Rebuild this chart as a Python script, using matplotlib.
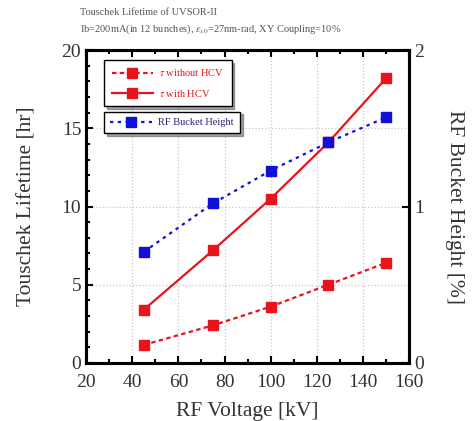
import matplotlib
matplotlib.use('Agg')
import matplotlib.pyplot as plt
from matplotlib.ticker import MultipleLocator

# Data
rf_voltage = [45, 75, 100, 125, 150]
tau_without_hcv = [1.15, 2.4, 3.6, 5.0, 6.4]
tau_with_hcv = [3.4, 7.2, 10.5, 14.1, 18.2]
bucket_height = [0.71, 1.02, 1.23, 1.41, 1.57]

red = '#e8141c'
blue = '#1010d8'

plt.rcParams['font.family'] = ['Liberation Serif', 'DejaVu Serif']
plt.rcParams['mathtext.fontset'] = 'stix'

fig = plt.figure(figsize=(4.73, 4.21), dpi=100)
ax = fig.add_axes([0.182, 0.138, 0.683, 0.743])

l1, = ax.plot(rf_voltage, tau_without_hcv, color=red, ls=(0, (2, 1.5)), lw=1.6,
              marker='s', ms=7, label=r'$\tau$ without HCV')
l2, = ax.plot(rf_voltage, tau_with_hcv, color=red, ls='-', lw=1.6,
              marker='s', ms=7, label=r'$\tau$ with HCV')

ax.set_xlim(20, 160)
ax.set_ylim(0, 20)
ax.xaxis.set_major_locator(MultipleLocator(20))
ax.xaxis.set_minor_locator(MultipleLocator(10))
ax.yaxis.set_major_locator(MultipleLocator(5))
ax.yaxis.set_minor_locator(MultipleLocator(1))
ax.grid(True, which='major', color='#c8c8c8', ls=':', lw=0.9)
ax.tick_params(which='both', direction='in', top=True, labelsize=14, width=1.5,
               labelcolor='#333333')
ax.tick_params(axis='x', pad=8)
ax.tick_params(which='major', length=5)
ax.tick_params(which='minor', length=3)
ax.set_xlabel('RF Voltage [kV]', fontsize=15.5, color='#333333', labelpad=8)
ax.set_ylabel('Touschek Lifetime [hr]', fontsize=15.5, color='#333333', labelpad=18)
for s in ax.spines.values():
    s.set_linewidth(2.2)

ax2 = ax.twinx()
l3, = ax2.plot(rf_voltage, bucket_height, color=blue, ls=(0, (1.5, 2)), lw=1.6,
               marker='s', ms=7, label='RF Bucket Height')
ax2.set_ylim(0, 2)
ax2.yaxis.set_major_locator(MultipleLocator(1))
ax2.tick_params(direction='in', labelsize=14, length=5, width=1.5,
                labelcolor='#333333')
ax2.set_ylabel('RF Bucket Height [%]', fontsize=15.5, color='#333333',
               rotation=270, labelpad=29)
for s in ax2.spines.values():
    s.set_linewidth(2.2)

leg1 = ax2.legend(handles=[l1, l2], loc='upper left', bbox_to_anchor=(0.04, 0.985),
                  fontsize=7.5, frameon=True, fancybox=False, shadow=True,
                  edgecolor='black', handlelength=4, borderpad=0.7,
                  labelspacing=0.9, handletextpad=0.6)
for t in leg1.get_texts():
    t.set_color(red)
ax2.add_artist(leg1)
leg2 = ax2.legend(handles=[l3], loc='upper left', bbox_to_anchor=(0.04, 0.82),
                  fontsize=7.5, frameon=True, fancybox=False, shadow=True,
                  edgecolor='black', handlelength=4, borderpad=0.6,
                  handletextpad=0.6)
for t in leg2.get_texts():
    t.set_color('#202070')

fig.text(0.17, 0.965, 'Touschek Lifetime of UVSOR-II', fontsize=7.5, color='#555555')
fig.text(0.17, 0.925, r'Ib=200mA(in 12 bunches), $\varepsilon_{x0}$=27nm-rad, XY Coupling=10%',
         fontsize=7.5, color='#555555')

fig.savefig('out.png', dpi=100)
